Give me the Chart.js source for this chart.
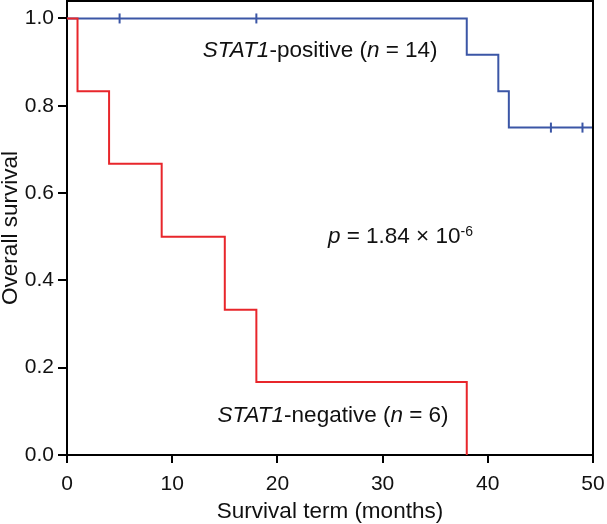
<!DOCTYPE html>
<html>
<head>
<meta charset="utf-8">
<script src="https://cdn.jsdelivr.net/npm/chart.js@4/dist/chart.umd.min.js"></script>
<style>
  body { margin: 0; background: #fff; }
</style>
</head>
<body>
<canvas id="km" width="607" height="524"></canvas>
<script>
// Kaplan-Meier steps
var negTimes = [0, 1, 4, 9, 15, 18, 38];
var negSurv  = [1.0, 0.833, 0.667, 0.5, 0.333, 0.167, 0.0];
var posTimes = [0, 38, 41, 42, 50];
var posSurv  = [1.0, 0.917, 0.833, 0.75, 0.75];
// censored cases (tick marks on the STAT1-positive curve)
var censorTimes = [5, 18, 46, 49];
var censorSurv  = [1.0, 1.0, 0.75, 0.75];

var xTicks = [0, 10, 20, 30, 40, 50];
var yTicks = [0, 0.2, 0.4, 0.6, 0.8, 1.0];

var X_MAX = 50;
var Y_MAX = 1.04;

var RED = '#e8262b';
var BLUE = '#3b56a6';
var FONT = '"Liberation Sans", Arial, sans-serif';

function toPoints(xs, ys) {
    return xs.map(function (x, i) { return { x: x, y: ys[i] }; });
}

// annotation text, anchored at its left baseline; segments: [text, italic, superscript]
var notes = [
    { x: 12.9, y: 0.911, parts: [['STAT1', true], ['-positive (', false], ['n', true], [' = 14)', false]] },
    { x: 24.8, y: 0.485, parts: [['p', true], [' = 1.84 \u00d7 10', false], ['-6', false, true]] },
    { x: 14.3, y: 0.0755, parts: [['STAT1', true], ['-negative (', false], ['n', true], [' = 6)', false]] }
];

var notesPlugin = {
    id: 'notes',
    afterDraw: function (chart) {
        var c = chart.ctx;
        var xs = chart.scales.x, ys = chart.scales.y;
        c.save();
        c.fillStyle = '#111';
        c.textBaseline = 'alphabetic';
        notes.forEach(function (n) {
            var px = xs.getPixelForValue(n.x);
            var py = ys.getPixelForValue(n.y);
            n.parts.forEach(function (p) {
                var size = p[2] ? 14 : 22.5;
                c.font = (p[1] ? 'italic ' : '') + size + 'px ' + FONT;
                c.fillText(p[0], px, p[2] ? py - 7 : py);
                px += c.measureText(p[0]).width;
            });
        });
        c.restore();
    }
};

new Chart(document.getElementById('km').getContext('2d'), {
    type: 'line',
    data: {
        datasets: [
            {
                // top and right sides of the plot frame
                label: 'frame',
                data: [{ x: 0, y: Y_MAX }, { x: X_MAX, y: Y_MAX }, { x: X_MAX, y: 0 }],
                borderColor: '#000',
                borderWidth: 2,
                pointRadius: 0,
                fill: false,
                clip: false
            },
            {
                label: 'STAT1-negative',
                data: toPoints(negTimes, negSurv),
                borderColor: RED,
                borderWidth: 2,
                stepped: 'before',
                pointRadius: 0,
                fill: false
            },
            {
                label: 'STAT1-positive',
                data: toPoints(posTimes, posSurv),
                borderColor: BLUE,
                borderWidth: 2,
                stepped: 'before',
                pointRadius: 0,
                fill: false
            },
            {
                label: 'censored',
                data: toPoints(censorTimes, censorSurv),
                showLine: false,
                pointStyle: 'line',
                rotation: 90,
                pointRadius: 5,
                pointBorderWidth: 2,
                borderColor: BLUE,
                backgroundColor: BLUE,
                clip: false
            }
        ]
    },
    options: {
        responsive: false,
        animation: false,
        layout: { autoPadding: false, padding: { top: 1, right: 14, left: 0, bottom: 0 } },
        plugins: {
            legend: { display: false },
            tooltip: { enabled: false }
        },
        scales: {
            x: {
                type: 'linear',
                min: 0,
                max: X_MAX,
                afterBuildTicks: function (s) { s.ticks = xTicks.map(function (v) { return { value: v }; }); },
                afterFit: function (s) { s.height = 69; s.paddingLeft = 0; s.paddingRight = 0; },
                ticks: { color: '#111', padding: 9, font: { family: FONT, size: 21 } },
                grid: { drawOnChartArea: false, drawTicks: true, tickLength: 8, color: '#000', lineWidth: 2 },
                border: { display: true, color: '#000', width: 2 },
                title: {
                    display: true,
                    text: 'Survival term (months)',
                    color: '#111',
                    font: { family: FONT, size: 22.5, lineHeight: 1 },
                    padding: { top: 0, bottom: 1 }
                }
            },
            y: {
                min: 0,
                max: Y_MAX,
                afterBuildTicks: function (s) { s.ticks = yTicks.map(function (v) { return { value: v }; }); },
                afterFit: function (s) { s.width = 67; s.paddingTop = 0; s.paddingBottom = 0; },
                ticks: {
                    color: '#111',
                    padding: 4,
                    font: { family: FONT, size: 21 },
                    callback: function (v) { return v.toFixed(1); }
                },
                grid: { drawOnChartArea: false, drawTicks: true, tickLength: 9, color: '#000', lineWidth: 2 },
                border: { display: true, color: '#000', width: 2 },
                title: {
                    display: true,
                    text: 'Overall survival',
                    color: '#111',
                    font: { family: FONT, size: 22.5, lineHeight: 1 },
                    padding: { top: 0, bottom: 0 }
                }
            }
        }
    },
    plugins: [notesPlugin]
});
</script>
</body>
</html>
